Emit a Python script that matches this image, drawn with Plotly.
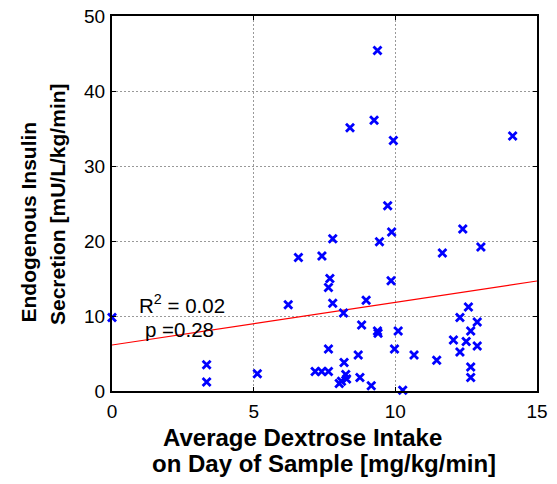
import plotly.graph_objects as go

# Data
dextrose = [0.00, 3.34, 3.34, 5.13, 6.22, 6.58, 7.17, 7.40, 7.64, 7.41,
            7.64, 7.64, 7.69, 7.79, 7.79, 8.17, 8.19, 8.25, 8.28, 8.02,
            8.10, 8.40, 8.69, 8.75, 8.81, 8.97, 9.15, 9.25, 9.37, 9.37,
            9.39, 9.44, 9.73, 9.85, 9.87, 9.93, 9.97, 10.10, 10.26, 10.66,
            11.46, 11.66, 12.05, 12.28, 12.28, 12.38, 12.50, 12.58, 12.66, 12.66,
            12.66, 12.89, 12.89, 13.02, 14.14]
insulin = [9.8, 3.5, 1.2, 2.3, 11.5, 17.8, 2.6, 2.6, 2.6, 18.0,
           5.6, 13.8, 15.0, 11.7, 20.3, 10.4, 3.8, 2.2, 1.6, 1.0,
           1.3, 35.1, 4.8, 1.8, 8.8, 12.1, 0.7, 36.1, 45.4, 8.0,
           7.7, 19.9, 24.7, 14.7, 21.2, 33.4, 5.6, 8.0, 0.1, 4.8,
           4.1, 18.4, 6.8, 9.8, 5.2, 21.6, 6.6, 11.2, 8.0, 3.2,
           1.8, 9.2, 6.0, 19.2, 34.0]
fit_x = [0, 15]
fit_y = [6.13, 14.67]
x_ticks = [0, 5, 10, 15]
y_ticks = [0, 10, 20, 30, 40, 50]

FONT = "Liberation Sans, Arial, sans-serif"
OFF = 8  # default page body margin
W, H = 557 - OFF, 484 - OFF
# plot area in page coordinates: x 112..537, y 16..391
PL, PT, PR, PB = 112, 16, 537, 391
L, T = PL - OFF, PT - OFF
R, B = W - (PR - OFF), H - (PB - OFF)
PW, PH = PR - PL, PB - PT

def px(xp):
    return (xp - PL) / PW

def py(yp):
    return (PB - yp) / PH

fig = go.Figure()
fig.add_trace(go.Scatter(x=fit_x, y=fit_y, mode="lines",
                         line=dict(color="red", width=1.2), showlegend=False,
                         hoverinfo="skip"))
fig.add_trace(go.Scatter(x=dextrose, y=insulin, mode="markers",
                         marker=dict(symbol="x-thin", size=8, color="blue",
                                     line=dict(color="blue", width=2.8)),
                         cliponaxis=False, showlegend=False))

axis_common = dict(showline=True, linecolor="black", linewidth=2, mirror="ticks",
                   ticks="inside", ticklen=4, tickwidth=1, tickcolor="black",
                   showgrid=True, gridcolor="#999999", griddash="2px,2px", gridwidth=1,
                   zeroline=False, automargin=False, ticklabeloverflow="allow",
                   tickfont=dict(family=FONT, size=19, color="black"))

fig.update_xaxes(range=[0, 15], tickvals=x_ticks, ticklabelstandoff=2, **axis_common)
fig.update_yaxes(range=[0, 50], tickvals=y_ticks, ticklabelstandoff=1, **axis_common)

annos = [
    dict(text="<b>Average Dextrose Intake</b>", x=px(302.6), y=py(437), size=24, angle=0),
    dict(text="<b>on Day of Sample [mg/kg/min]</b>", x=px(324), y=py(463), size=24, angle=0),
    dict(text="<b>Endogenous Insulin</b>", x=px(27.5), y=py(222), size=21, angle=-90),
    dict(text="<b>Secretion [mU/L/kg/min]</b>", x=px(57), y=py(204), size=21, angle=-90),
]
for a in annos:
    fig.add_annotation(xref="paper", yref="paper", showarrow=False,
                       xanchor="center", yanchor="middle", textangle=a["angle"],
                       x=a["x"], y=a["y"], text=a["text"],
                       font=dict(family=FONT, size=a["size"], color="black"))

fig.add_annotation(xref="paper", yref="paper", showarrow=False,
                   xanchor="left", yanchor="middle", x=px(137), y=py(304),
                   text="R<sup>2</sup> = 0.02",
                   font=dict(family=FONT, size=20.5, color="black"))
fig.add_annotation(xref="paper", yref="paper", showarrow=False,
                   xanchor="left", yanchor="middle", x=px(143), y=py(329),
                   text="p =0.28",
                   font=dict(family=FONT, size=20.5, color="black"))

fig.update_layout(width=W, height=H, margin=dict(l=L, r=R, t=T, b=B),
                  paper_bgcolor="white", plot_bgcolor="white")

fig.write_html("out.html")
